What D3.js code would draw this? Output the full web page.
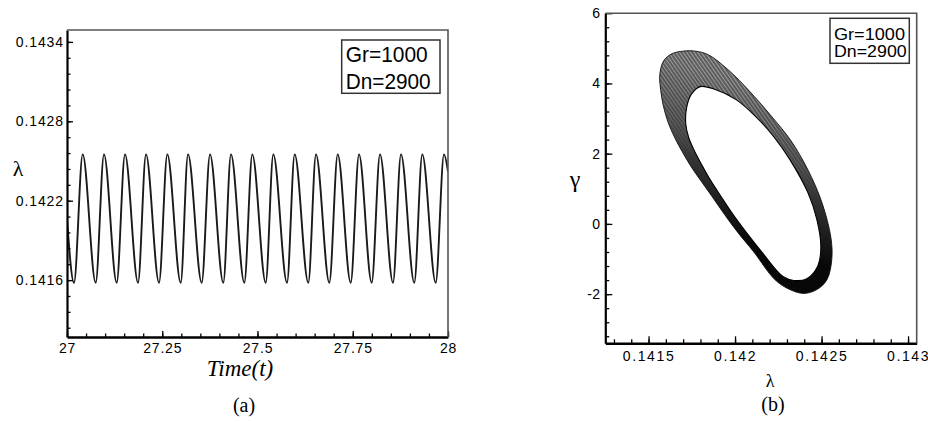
<!DOCTYPE html>
<html>
<head>
<meta charset="utf-8">
<script src="https://cdn.jsdelivr.net/npm/d3@7"></script>
<style>
body { margin: 0; background: #fff; }
svg { display: block; }
.tick text { font-family: "Liberation Sans", Arial, sans-serif; font-size: 14px; fill: #000; }
.serif { font-family: "Liberation Serif", "Times New Roman", serif; fill: #000; }
.legend text { font-family: "Liberation Sans", Arial, sans-serif; fill: #000; }
</style>
</head>
<body>
<svg id="chart" width="928" height="422"></svg>
<script>
// ---- panel (a): lambda against time, extrema
const start_point = [27, 0.14206];
const end_point = [28, 0.14242];
const trough_times = [27.0184, 27.0753, 27.1304, 27.1864, 27.2415, 27.2984, 27.3535, 27.4102, 27.4654,
                      27.5215, 27.5774, 27.6333, 27.6885, 27.7446, 27.7997, 27.8556, 27.9115, 27.9677];
const peak_times = [27.0412, 27.0971, 27.1522, 27.2073, 27.2633, 27.3176, 27.3753, 27.4304, 27.4864,
                    27.5415, 27.5976, 27.6535, 27.7105, 27.7664, 27.8215, 27.8766, 27.9325, 27.9895];
const trough_lambda = 0.14158;
const peak_lambda = 0.14255;

const ticks_time = [27, 27.25, 27.5, 27.75, 28];
const labels_time = ["27", "27.25", "27.5", "27.75", "28"];
const ticks_lambda_a = [0.1416, 0.1422, 0.1428, 0.1434];
const labels_lambda_a = ["0.1416", "0.1422", "0.1428", "0.1434"];

// ---- panel (b): phase portrait, outer and inner edge of the band
const outer_lambda = [0.141565, 0.141588, 0.141637, 0.141700, 0.141769, 0.141844, 0.141960, 0.142087, 0.142213, 0.142323,
                      0.142421, 0.142502, 0.142554, 0.142559, 0.142531, 0.142473, 0.142398, 0.142317, 0.142231, 0.142107,
                      0.142017, 0.141939, 0.141867, 0.141798, 0.141746, 0.141694, 0.141654, 0.141614, 0.141585, 0.141570];
const outer_gamma = [4.25, 4.65, 4.85, 4.92, 4.92, 4.82, 4.39, 3.76, 3.05, 2.37,
                     1.54, 0.61, -0.39, -1.02, -1.59, -1.87, -1.98, -1.87, -1.59, -0.79,
                     -0.25, 0.27, 0.78, 1.26, 1.63, 2.06, 2.43, 2.88, 3.37, 3.82];
const inner_lambda = [0.141798, 0.141890, 0.142006, 0.142121, 0.142225, 0.142317, 0.142421, 0.142473, 0.142496, 0.142479,
                      0.142415, 0.142340, 0.142277, 0.142153, 0.142066, 0.141988, 0.141919, 0.141856, 0.141810, 0.141764,
                      0.141732, 0.141715, 0.141720, 0.141746];
const inner_gamma = [3.91, 3.82, 3.54, 3.05, 2.48, 1.83, 0.89, 0.12, -0.65, -1.19,
                     -1.56, -1.61, -1.50, -0.79, -0.25, 0.27, 0.78, 1.26, 1.66, 2.09,
                     2.46, 2.85, 3.31, 3.68];

const ticks_lambda_b = [0.1415, 0.142, 0.1425, 0.143];
const labels_lambda_b = ["0.1415", "0.142", "0.1425", "0.143"];
const ticks_gamma = [-2, 0, 2, 4, 6];
const labels_gamma = ["-2", "0", "2", "4", "6"];

const legend_lines = ["Gr=1000", "Dn=2900"];

const svg = d3.select('#chart');
const defs = svg.append('defs');

// draws the inward ticks, thick left/bottom axes and thin top/right border
function frame(x, y, o) {
  const [x0, x1] = x.range();
  const [y0, y1] = y.range();

  svg.append('g').attr('transform', `translate(0,${y0})`)
    .call(d3.axisBottom(x).tickValues(o.xminor).tickFormat('').tickSizeInner(-o.minor).tickSizeOuter(0))
    .call(g => g.select('.domain').remove());
  svg.append('g').attr('transform', `translate(${x0},0)`)
    .call(d3.axisLeft(y).tickValues(o.yminor).tickFormat('').tickSizeInner(-o.minor).tickSizeOuter(0))
    .call(g => g.select('.domain').remove());

  const xg = svg.append('g').attr('transform', `translate(0,${y0})`)
    .call(d3.axisBottom(x).tickValues(o.xticks).tickFormat((d, i) => o.xlabels[i])
      .tickSizeInner(-o.major).tickSizeOuter(0).tickPadding(o.xpad));
  xg.selectAll('.tick text').attr('letter-spacing', o.xspace);
  const yg = svg.append('g').attr('transform', `translate(${x0},0)`)
    .call(d3.axisLeft(y).tickValues(o.yticks).tickFormat((d, i) => o.ylabels[i])
      .tickSizeInner(-o.major).tickSizeOuter(0).tickPadding(o.ypad));
  yg.selectAll('.tick text').attr('letter-spacing', o.yspace);

  svg.selectAll('.tick line').attr('stroke', '#000').attr('stroke-width', 1.3);

  svg.append('path')
    .attr('d', `M${x0},${y1}H${x1}V${y0}`)
    .attr('fill', 'none').attr('stroke', '#555').attr('stroke-width', 1.6);
  xg.select('.domain').attr('stroke', '#000').attr('stroke-width', 2.6);
  yg.select('.domain').attr('stroke', '#000').attr('stroke-width', 2.2);
}

function legend(x, y, w, h, size, lens, base) {
  const g = svg.append('g').attr('class', 'legend');
  g.append('rect').attr('x', x).attr('y', y).attr('width', w).attr('height', h)
    .attr('fill', '#fff').attr('stroke', '#333').attr('stroke-width', 1.5);
  legend_lines.forEach((t, i) => {
    g.append('text').attr('x', x + 4).attr('y', base[i])
      .attr('font-size', size).attr('textLength', lens[i]).attr('lengthAdjust', 'spacingAndGlyphs')
      .text(t);
  });
}

// ---------------- panel (a)
const xa = d3.scaleLinear().domain([27, 28]).range([67, 448]);
const ya = d3.scaleLinear().domain([0.14117, 0.14349]).range([337, 30]);

defs.append('clipPath').attr('id', 'clip_a').append('rect')
  .attr('x', 67).attr('y', 30).attr('width', 381).attr('height', 307);

const series = [start_point];
trough_times.forEach((t, i) => {
  series.push([t, trough_lambda]);
  series.push([peak_times[i], peak_lambda]);
});
series.push(end_point);

const line_a = d3.line()
  .x(d => xa(d[0]))
  .y(d => ya(d[1]))
  .curve(d3.curveMonotoneX);

svg.append('path')
  .datum(series)
  .attr('clip-path', 'url(#clip_a)')
  .attr('d', line_a)
  .attr('fill', 'none')
  .attr('stroke', '#1a1a1a')
  .attr('stroke-width', 1.9);

frame(xa, ya, {
  xticks: ticks_time, xlabels: labels_time,
  yticks: ticks_lambda_a, ylabels: labels_lambda_a,
  xminor: d3.range(21).map(i => 27 + i * 0.05),
  yminor: d3.range(20).map(i => 0.14124 + i * 0.00012).filter(v => v < 0.14349),
  major: 6, minor: 3.5, xpad: 6, ypad: 3, xspace: 0.8, yspace: 0.9
});

legend(341.7, 40, 98.3, 53.3, 22, [82, 85], [62, 89]);

svg.append('text').attr('class', 'serif').attr('x', 18).attr('y', 176)
  .attr('text-anchor', 'middle').attr('font-size', 22).text('λ');
svg.append('text').attr('class', 'serif').attr('x', 240).attr('y', 376)
  .attr('text-anchor', 'middle').attr('font-size', 23).attr('font-style', 'italic').text('Time(t)');
svg.append('text').attr('class', 'serif').attr('x', 244).attr('y', 412)
  .attr('text-anchor', 'middle').attr('font-size', 20).text('(a)');

// ---------------- panel (b)
const xb = d3.scaleLinear().domain([0.14125, 0.14305]).range([605.3, 916.7]);
const yb = d3.scaleLinear().domain([-3.4, 6]).range([343.3, 13.2]);

const loop = d3.line()
  .x(d => xb(d[0]))
  .y(d => yb(d[1]))
  .curve(d3.curveCatmullRomClosed.alpha(0.5));

const outer = outer_lambda.map((l, i) => [l, outer_gamma[i]]);
const inner = inner_lambda.map((l, i) => [l, inner_gamma[i]]);
const band = loop(outer) + loop(inner);

const shade = defs.append('linearGradient').attr('id', 'shade')
  .attr('gradientUnits', 'userSpaceOnUse')
  .attr('x1', 700).attr('y1', 70).attr('x2', 656).attr('y2', 214);
[[0, '#5e5e5e'], [0.4, '#474747'], [0.72, '#262626'], [1, '#080808']].forEach(s =>
  shade.append('stop').attr('offset', s[0]).attr('stop-color', s[1]));

const fade = defs.append('linearGradient').attr('id', 'fade')
  .attr('gradientUnits', 'userSpaceOnUse')
  .attr('x1', 700).attr('y1', 70).attr('x2', 656).attr('y2', 214);
[[0, '#fff'], [0.6, '#000']].forEach(s =>
  fade.append('stop').attr('offset', s[0]).attr('stop-color', s[1]));
defs.append('mask').attr('id', 'mesh_mask').append('rect')
  .attr('x', 600).attr('y', 0).attr('width', 328).attr('height', 350).attr('fill', 'url(#fade)');

const mesh = defs.append('pattern').attr('id', 'mesh')
  .attr('patternUnits', 'userSpaceOnUse').attr('width', 3).attr('height', 3)
  .attr('patternTransform', 'rotate(55)');
mesh.append('line').attr('x1', 0).attr('y1', 1.5).attr('x2', 3).attr('y2', 1.5)
  .attr('stroke', '#fff').attr('stroke-width', 0.8).attr('stroke-opacity', 0.5);

svg.append('path').attr('d', band)
  .attr('fill', 'url(#shade)').attr('fill-rule', 'evenodd');
svg.append('path').attr('d', band)
  .attr('fill', 'url(#mesh)').attr('fill-rule', 'evenodd').attr('mask', 'url(#mesh_mask)');
svg.append('path').attr('d', loop(outer))
  .attr('fill', 'none').attr('stroke', '#111').attr('stroke-width', 0.9);
svg.append('path').attr('d', loop(inner))
  .attr('fill', 'none').attr('stroke', '#000').attr('stroke-width', 1.1);

frame(xb, yb, {
  xticks: ticks_lambda_b, xlabels: labels_lambda_b,
  yticks: ticks_gamma, ylabels: labels_gamma,
  xminor: d3.range(18).map(i => 0.1413 + i * 0.0001),
  yminor: d3.range(24).map(i => -3.2 + i * 0.4).filter(v => v <= 6),
  major: 7, minor: 4, xpad: 8, ypad: 5, xspace: 1.6, yspace: 0.3
});

legend(830, 18.3, 79.3, 45, 17, [71, 72.7], [39.5, 57]);

svg.append('text').attr('class', 'serif').attr('x', 575).attr('y', 187)
  .attr('text-anchor', 'middle').attr('font-size', 24).text('γ');
svg.append('text').attr('class', 'serif').attr('x', 770).attr('y', 387)
  .attr('text-anchor', 'middle').attr('font-size', 18).text('λ');
svg.append('text').attr('class', 'serif').attr('x', 773).attr('y', 411)
  .attr('text-anchor', 'middle').attr('font-size', 20).text('(b)');
</script>
</body>
</html>
